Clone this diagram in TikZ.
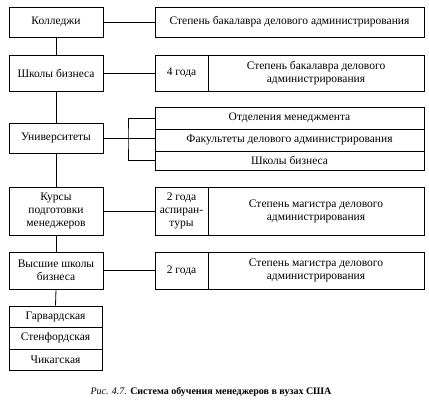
\documentclass[tikz,border=0pt]{standalone}
\usepackage{fontspec}
\setmainfont{Liberation Serif}
\begin{document}
\begin{tikzpicture}[x=1pt,y=-1pt,
  box/.style={draw,line width=0.8pt,inner sep=1pt,align=center,font=\fontsize{11.5}{13}\selectfont},
  conn/.style={line width=0.8pt}]
\useasboundingbox (0,0) rectangle (429,403);
% left column
\node[box,minimum width=94pt,minimum height=30pt] (kol) at (56,22) {Колледжи};
\node[box,minimum width=94pt,minimum height=36pt] (shk) at (56,73) {Школы бизнеса};
\node[box,minimum width=94pt,minimum height=30pt] (uni) at (56,138) {Университеты};
\node[box,minimum width=94pt,minimum height=48pt] (kur) at (56,211) {Курсы\\подготовки\\менеджеров};
\node[box,minimum width=94pt,minimum height=37pt] (vys) at (56,270.5) {Высшие школы\\бизнеса};
\node[box,minimum width=93pt,minimum height=21pt] (harv) at (55.5,316.5) {Гарвардская};
\node[box,minimum width=93pt,minimum height=22pt] (sten) at (55.5,338) {Стенфордская};
\node[box,minimum width=93pt,minimum height=21pt] (chik) at (55.5,359.5) {Чикагская};
% right column
\node[box,minimum width=269pt,minimum height=30pt] (deg1) at (289.5,22) {Степень бакалавра делового администрирования};
\node[box,minimum width=53pt,minimum height=36pt] (g4) at (181.5,73) {4 года};
\node[box,minimum width=216pt,minimum height=36pt] (deg2) at (316,73) {Степень бакалавра делового\\администрирования};
\node[box,minimum width=269pt,minimum height=22pt] (otd) at (289.5,118) {Отделения менеджмента};
\node[box,minimum width=269pt,minimum height=22pt] (fak) at (289.5,140) {Факультеты делового администрирования};
\node[box,minimum width=269pt,minimum height=19pt] (shk2) at (289.5,160.5) {Школы бизнеса};
\node[box,minimum width=53pt,minimum height=48pt] (g2a) at (181.5,211) {2 года\\аспиран-\\туры};
\node[box,minimum width=216pt,minimum height=48pt] (deg3) at (316,211) {Степень магистра делового\\администрирования};
\node[box,minimum width=53pt,minimum height=37pt] (g2) at (181.5,270.5) {2 года};
\node[box,minimum width=216pt,minimum height=37pt] (deg4) at (316,270.5) {Степень магистра делового\\администрирования};
% trunk
\draw[conn] (kol.south) -- (shk.north);
\draw[conn] (shk.south) -- (uni.north);
\draw[conn] (uni.south) -- (kur.north);
\draw[conn] (kur.south) -- (vys.north);
\draw[conn] (vys.south) -- (harv.north);
% horizontal connectors
\draw[conn] (kol.east) -- (deg1.west);
\draw[conn] (shk.east) -- (g4.west);
\draw[conn] (kur.east) -- (g2a.west);
\draw[conn] (vys.east) -- (g2.west);
% bracket
\coordinate (br) at (128,138);
\draw[conn] (uni.east) -- (br);
\draw[conn] (otd.west) -| (br) |- (shk2.west);
\draw[conn] (br) -- (br -| fak.west);
% caption
\node[font=\fontsize{10}{12}\selectfont] (cap) at (211,392) {\textit{Рис. 4.7.} \textbf{Система обучения менеджеров в вузах США}};
\end{tikzpicture}
\end{document}
